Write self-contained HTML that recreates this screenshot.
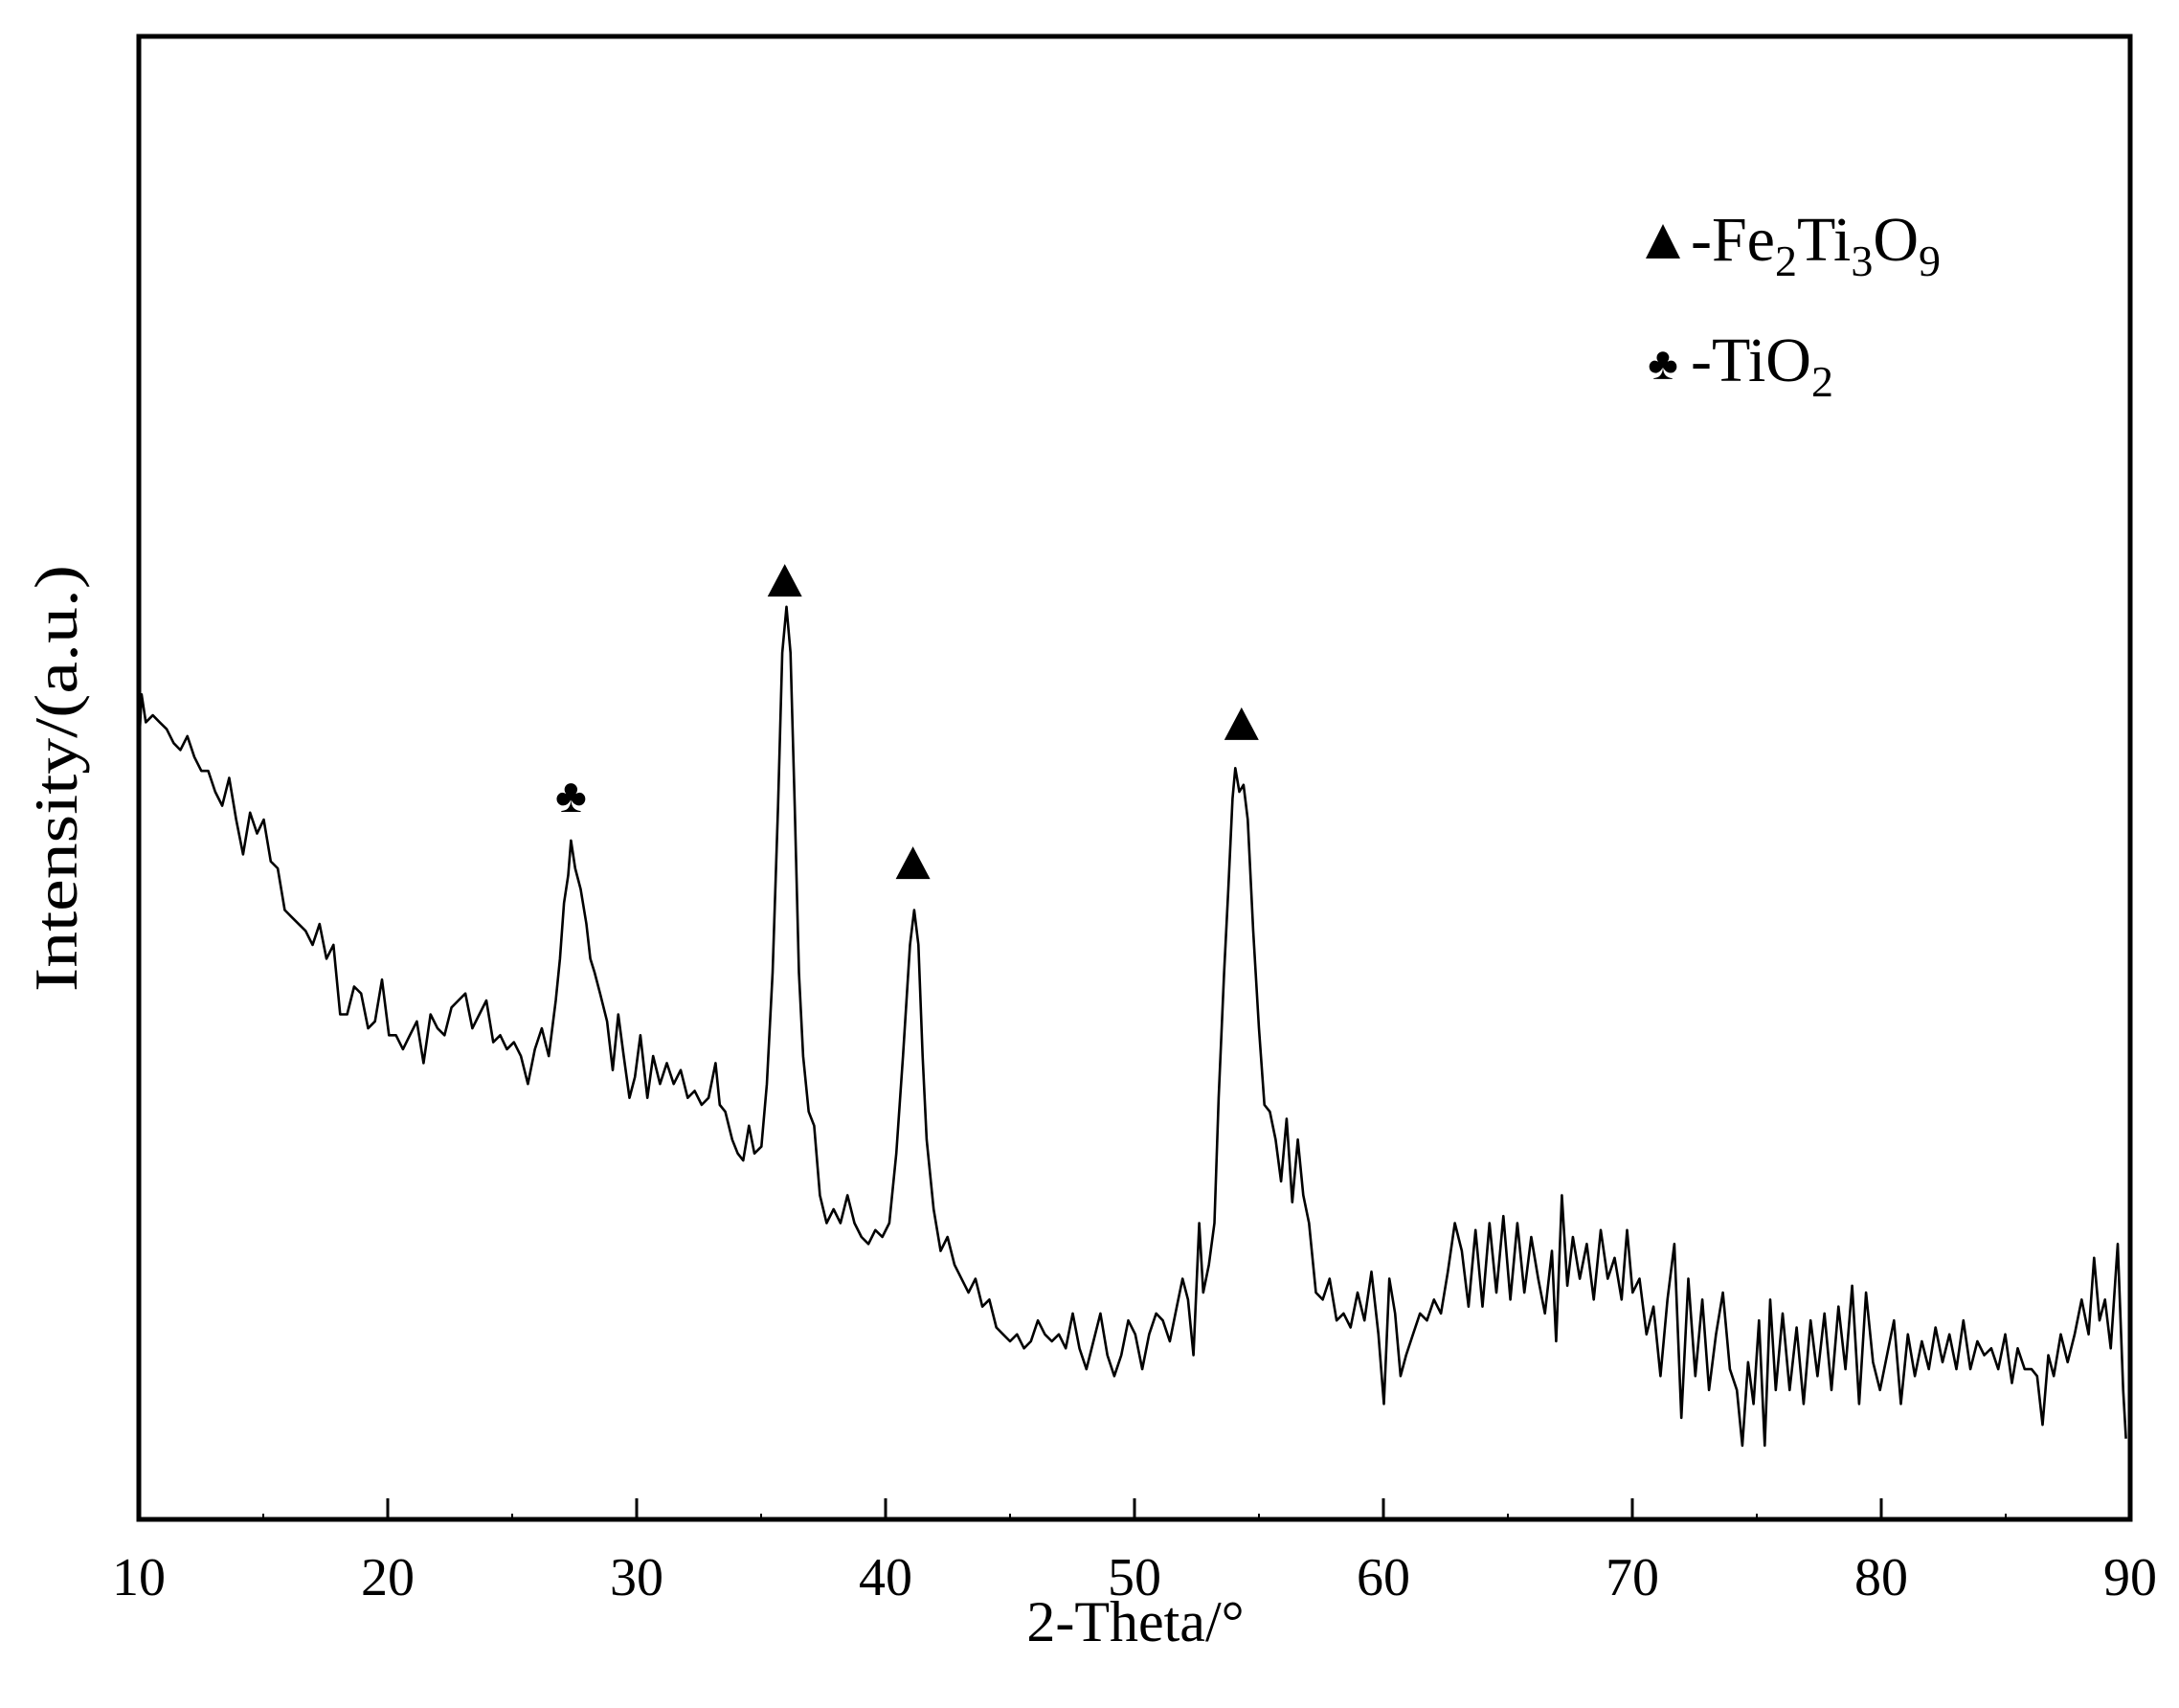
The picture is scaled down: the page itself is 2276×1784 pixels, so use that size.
<!DOCTYPE html>
<html><head><meta charset="utf-8"><style>
html,body{margin:0;padding:0;background:#fff}
svg{display:block}
text{font-family:"Liberation Serif","Times New Roman",serif;fill:#000}
</style></head><body>
<svg id="chart" width="2276" height="1784" viewBox="0 0 2276 1784" xmlns="http://www.w3.org/2000/svg">
<g id="plot"></g>
<g id="axes"></g>
<text transform="translate(80,813) rotate(-90)" text-anchor="middle" font-size="64" textLength="446" lengthAdjust="spacingAndGlyphs">Intensity/(a.u.)</text>
<text x="1186" y="1714" text-anchor="middle" font-size="60">2-Theta/°</text>
<g>
<polygon points="1737,234 1719,270 1755,270" fill="#000"/>
<text x="1766" y="272" font-size="66">-Fe<tspan font-size="46" dy="16">2</tspan><tspan dy="-16">Ti</tspan><tspan font-size="46" dy="16">3</tspan><tspan dy="-16">O</tspan><tspan font-size="46" dy="16">9</tspan></text>
<text x="1737" y="396" text-anchor="middle" font-size="48">♣</text>
<text x="1766" y="398" font-size="66">-TiO<tspan font-size="46" dy="16">2</tspan></text>
</g>
</svg>
<script>
const twoTheta = [
10.00,10.11,10.28,10.56,10.84,11.12,11.40,11.67,11.95,12.23,
12.51,12.79,13.07,13.35,13.63,13.91,14.19,14.47,14.75,15.02,
15.30,15.58,15.86,16.14,16.42,16.70,16.98,17.26,17.54,17.82,
18.09,18.37,18.65,18.93,19.21,19.49,19.77,20.05,20.33,20.61,
20.89,21.17,21.44,21.72,22.00,22.28,22.56,22.84,23.12,23.40,
23.68,23.96,24.24,24.52,24.79,25.07,25.35,25.63,25.91,26.19,
26.47,26.75,26.92,27.08,27.25,27.36,27.53,27.75,27.98,28.14,
28.31,28.53,28.81,29.04,29.26,29.48,29.71,29.93,30.15,30.43,
30.66,30.94,31.21,31.49,31.77,32.05,32.33,32.61,32.89,33.17,
33.34,33.56,33.84,34.06,34.28,34.51,34.73,35.01,35.23,35.46,
35.68,35.85,36.02,36.18,36.35,36.52,36.69,36.91,37.13,37.36,
37.63,37.91,38.19,38.47,38.75,39.03,39.31,39.59,39.87,40.15,
40.43,40.70,40.98,41.15,41.32,41.49,41.65,41.93,42.21,42.49,
42.77,43.05,43.33,43.61,43.89,44.17,44.45,44.72,45.00,45.28,
45.56,45.84,46.12,46.40,46.68,46.96,47.24,47.52,47.79,48.07,
48.35,48.63,48.91,49.19,49.47,49.75,50.03,50.31,50.59,50.87,
51.14,51.42,51.70,51.93,52.15,52.37,52.60,52.76,52.99,53.21,
53.38,53.60,53.77,53.94,54.05,54.21,54.38,54.55,54.77,55.00,
55.22,55.44,55.67,55.89,56.11,56.34,56.56,56.78,57.01,57.29,
57.56,57.84,58.12,58.40,58.68,58.96,59.24,59.52,59.80,60.02,
60.24,60.47,60.69,60.91,61.19,61.47,61.75,62.03,62.31,62.59,
62.87,63.15,63.42,63.70,63.98,64.26,64.54,64.82,65.10,65.38,
65.66,65.94,66.22,66.49,66.77,66.94,67.17,67.39,67.61,67.89,
68.17,68.45,68.73,69.01,69.29,69.57,69.79,70.01,70.29,70.57,
70.85,71.13,71.41,71.69,71.97,72.25,72.53,72.81,73.08,73.36,
73.64,73.92,74.20,74.42,74.65,74.87,75.09,75.32,75.54,75.76,
76.04,76.32,76.60,76.88,77.16,77.44,77.72,78.00,78.28,78.56,
78.83,79.11,79.39,79.67,79.95,80.23,80.51,80.79,81.07,81.35,
81.63,81.91,82.18,82.46,82.74,83.02,83.30,83.58,83.86,84.14,
84.42,84.70,84.98,85.25,85.48,85.76,86.04,86.26,86.48,86.71,
86.93,87.21,87.49,87.77,88.05,88.33,88.55,88.77,88.99,89.22,
89.50,89.72,89.83];
const intensity = [
553,593,573,578,573,568,558,553,563,548,
538,538,523,513,533,503,478,508,493,503,
473,468,438,433,428,423,413,428,403,413,
363,363,383,378,353,358,388,348,348,338,
348,358,328,363,353,348,368,373,378,353,
363,373,343,348,338,343,333,313,338,353,
333,373,403,443,463,488,468,453,428,403,
393,378,358,323,363,333,303,318,348,303,
333,313,328,313,323,303,308,298,303,328,
298,293,273,263,258,283,263,268,313,393,
513,623,656,623,513,393,333,293,283,233,
213,223,213,233,213,203,198,208,203,213,
263,333,413,438,413,333,273,223,193,203,
183,173,163,173,153,158,138,133,128,133,
123,128,143,133,128,133,123,148,123,108,
128,148,118,103,118,143,133,108,133,148,
143,128,153,173,158,118,213,163,183,213,
303,393,453,518,540,523,528,503,423,353,
298,293,273,243,288,228,273,233,213,163,
158,173,143,148,138,163,143,178,133,83,
173,148,103,118,133,148,143,158,148,178,
213,193,153,208,153,213,163,218,158,213,
163,203,173,148,193,128,233,168,203,173,
198,158,208,173,188,158,208,163,173,133,
153,103,158,198,73,173,103,158,93,133,
163,108,93,53,113,83,143,53,158,93,
148,93,138,83,143,103,148,93,153,108,
168,83,163,113,93,118,143,83,133,103,
128,108,138,113,133,108,143,108,128,118,
123,108,133,98,123,108,108,103,68,118,
103,133,113,133,158,133,188,143,158,123,
198,93,58];
const xTicks = [10,20,30,40,50,60,70,80,90];
const xMinorTicks = [15,25,35,45,55,65,75,85];
const triPeaks = [35.95, 41.1, 54.3];
const triMarkerHeights = [675, 472, 572];
const clubPeaks = [27.36];
const clubMarkerHeights = [521];

const L=145,R=2225,T=38,B=1587,XMIN=10,XMAX=90,YMIN=0,YMAX=1066;
const xs=v=>L+(v-XMIN)/(XMAX-XMIN)*(R-L);
const ys=v=>B-(v-YMIN)/(YMAX-YMIN)*(B-T);
const NS='http://www.w3.org/2000/svg';
function mk(tag,attrs,parent){const e=document.createElementNS(NS,tag);for(const k in attrs)e.setAttribute(k,attrs[k]);parent.appendChild(e);return e;}
const plot=document.getElementById('plot'), axes=document.getElementById('axes');

let d='';
for(let i=0;i<twoTheta.length;i++){d+=(i?'L':'M')+xs(twoTheta[i]).toFixed(1)+','+ys(intensity[i]).toFixed(1);}
const line=mk('path',{d:d,fill:'none',stroke:'#000','stroke-width':2.6,'stroke-linejoin':'round'},plot);



triPeaks.forEach((p,i)=>{
  const cx=xs(p), cy=ys(triMarkerHeights[i]);
  const t=mk('polygon',{points:`${cx},${cy-17} ${cx-18},${cy+17} ${cx+18},${cy+17}`,fill:'#000'},plot);
  
  
});
clubPeaks.forEach((p,i)=>{
  const t=mk('text',{x:xs(p),y:ys(clubMarkerHeights[i])+18,'text-anchor':'middle','font-size':50},plot);
  t.textContent='♣';
  
  
});

const frame=mk('rect',{x:L,y:T,width:R-L,height:B-T,fill:'none',stroke:'#000','stroke-width':5},axes);


xTicks.forEach(v=>{
  const tk=mk('line',{x1:xs(v),x2:xs(v),y1:B,y2:B-22,stroke:'#000','stroke-width':3},axes);
  
  
  const lb=mk('text',{x:xs(v),y:1666,'text-anchor':'middle','font-size':56},axes);
  lb.textContent=v;
  
  
});
xMinorTicks.forEach(v=>{
  const tk=mk('line',{x1:xs(v),x2:xs(v),y1:B,y2:B-6,stroke:'#000','stroke-width':2},axes);
  
  
});
</script>
</body></html>
